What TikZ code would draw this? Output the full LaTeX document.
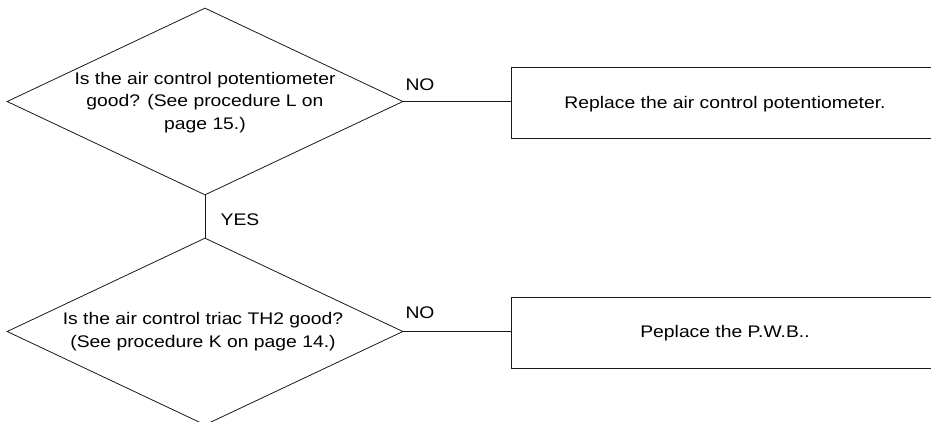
\documentclass[tikz,border=0pt]{standalone}
\usepackage{fontspec}
\setmainfont{Liberation Sans}[FakeStretch=1.15]
\usetikzlibrary{shapes.geometric}
\begin{document}
\begin{tikzpicture}[x=1pt,y=-1pt,
  line/.style={draw=black!90, line width=0.8pt},
  decision/.style={diamond, line, minimum width=396pt, minimum height=187pt, inner sep=0pt},
  actionbox/.style={line, rectangle, minimum width=429pt, minimum height=71pt, inner sep=0pt, anchor=west},
  txt/.style={font=\fontsize{16.8}{22.5}\selectfont, align=center, inner sep=0pt},
  lbl/.style={font=\fontsize{16.8}{20}\selectfont, inner sep=0pt}]
\useasboundingbox (0,0) rectangle (931,421);
% decisions
\node[decision] (d1) at (205,101.5) {};
\node[txt] (t1) at (205,102.5) {Is the air control potentiometer\\ good? (See procedure L on\\ page 15.)};
\node[decision] (d2) at (205,331.5) {};
\node[txt] (t2) at (203,331.5) {Is the air control triac TH2 good?\\ (See procedure K on page 14.)};
% actions
\node[actionbox] (b1) at (511,102.5) {};
\node[txt] (a1) at (725,104) {Replace the air control potentiometer.};
\node[actionbox] (b2) at (511,333) {};
\node[txt] (a2) at (725,333) {Peplace the P.W.B..};
% connectors
\draw[line] (d1.east) -- (d1.east -| b1.west);
\draw[line] (d2.east) -- (d2.east -| b2.west);
\draw[line] (d1.south) -- (d2.north);
% labels
\node[lbl] (no1) at (420,85) {NO};
\node[lbl] (no2) at (420,313) {NO};
\node[lbl] (yes) at (240,220) {YES};
\end{tikzpicture}
\end{document}
